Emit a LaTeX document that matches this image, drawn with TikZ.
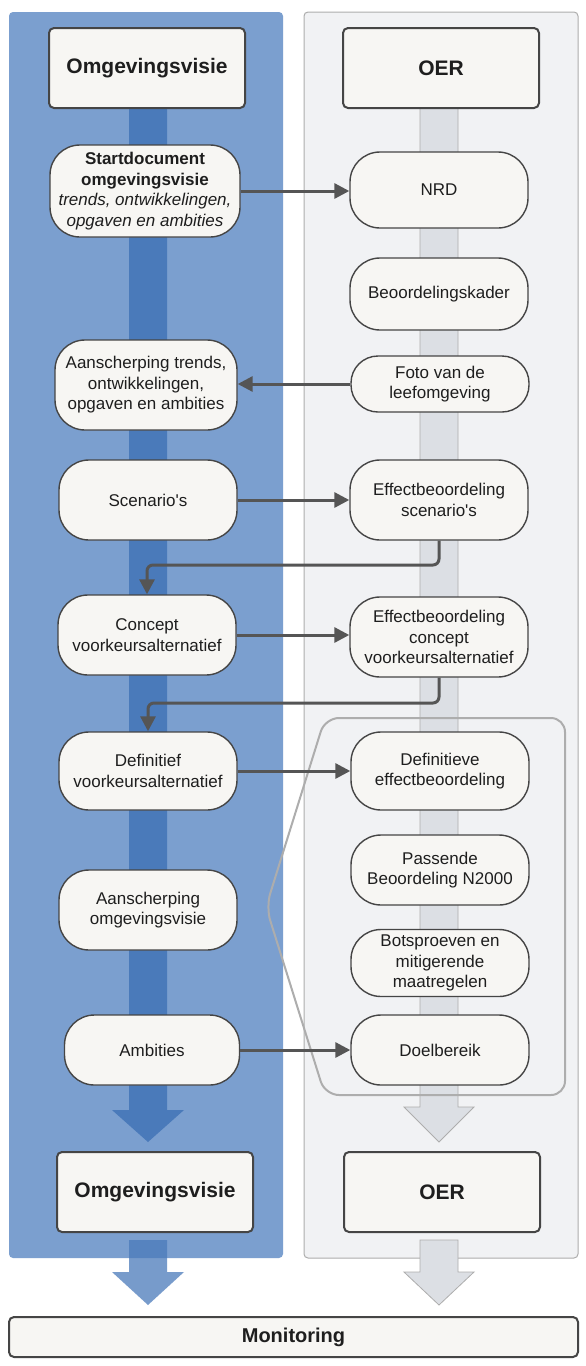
\documentclass[tikz,border=0pt]{standalone}
\usepackage{fontspec}
\setmainfont{Liberation Sans}[Ligatures=TeXOff]
\usetikzlibrary{arrows.meta}
\definecolor{panelblue}{HTML}{7B9FCF}
\definecolor{stripeblue}{HTML}{4A7ABA}
\definecolor{panelgray}{HTML}{F1F2F4}
\definecolor{stripegray}{HTML}{DCDFE4}
\definecolor{nodefill}{HTML}{F7F6F3}
\definecolor{edgecol}{HTML}{454545}
\definecolor{conncol}{HTML}{555555}
\definecolor{hexcol}{HTML}{ADADAD}
\definecolor{txtcol}{HTML}{1E1E1E}
\begin{document}
\begin{tikzpicture}[x=1pt,y=-1pt,
  pill/.style={draw=edgecol, line width=1.4pt, fill=nodefill, rounded corners=30pt,
    align=center, font=\fontsize{17}{20.5}\selectfont, text=txtcol, inner sep=1pt,
    minimum width=178pt, minimum height=78pt},
  titlebox/.style={draw=edgecol, line width=2pt, fill=nodefill, rounded corners=5pt,
    align=center, font=\fontsize{21}{25}\selectfont\bfseries, text=txtcol,
    minimum width=196pt, minimum height=80pt},
  conn/.style={draw=conncol, line width=3pt, -{Triangle[length=15pt,width=15pt]}},
  elbow/.style={conn, rounded corners=6pt},
  hexline/.style={draw=hexcol, line width=2pt, rounded corners=14pt}
]
\useasboundingbox (0,0) rectangle (586,1366);
\fill[white] (0,0) rectangle (586,1366);

% panels
\fill[panelblue, rounded corners=4pt] (9,12) rectangle (283,1258);
\filldraw[fill=panelgray, draw=hexcol, line width=1pt, rounded corners=4pt] (304,12) rectangle (578,1258);

% stripes
\fill[stripeblue] (129,100) -- (129,1110) -- (112,1110) -- (148,1142) -- (184,1110) -- (167,1110) -- (167,100) -- cycle;
\filldraw[fill=stripegray, draw=hexcol, line width=0.8pt] (420,100) -- (420,1107) -- (404,1107) -- (439,1142) -- (474,1107) -- (458,1107) -- (458,100) -- cycle;
\fill[stripeblue, opacity=0.75] (129,1240) -- (129,1272) -- (112,1272) -- (148,1305) -- (184,1272) -- (167,1272) -- (167,1240) -- cycle;
\filldraw[fill=stripegray, draw=hexcol, line width=0.8pt] (420,1240) -- (420,1272) -- (404,1272) -- (439,1305) -- (474,1272) -- (458,1272) -- (458,1240) -- cycle;

% grouping outline
\draw[hexline] (325,718) -- (565,718) -- (565,1095) -- (325,1095) -- (266,907) -- cycle;

% title boxes
\node[titlebox] (topL) at (147,68) {Omgevingsvisie};
\node[titlebox] (topR) at (441,68) {OER};
\node[titlebox] (botL) at (155,1192) {Omgevingsvisie};
\node[titlebox] (botR) at (442,1192) {OER};
\node[titlebox, minimum width=569pt, minimum height=40pt, font=\fontsize{20}{24}\selectfont\bfseries] (mon) at (293.5,1337) {Monitoring};

% left column
\node[pill, minimum width=190pt, minimum height=92pt] (start) at (145,191)
  {\textbf{Startdocument}\\\textbf{omgevingsvisie}\\\textit{trends, ontwikkelingen,}\\\textit{opgaven en ambities}};
\node[pill, minimum width=182pt, minimum height=90pt] (aans1) at (146,385)
  {Aanscherping trends,\\ontwikkelingen,\\opgaven en ambities};
\node[pill, minimum height=80pt] (scen) at (148,500) {Scenario's};
\node[pill, minimum height=80pt] (concept) at (147,635) {Concept\\voorkeursalternatief};
\node[pill] (defL) at (148,771) {Definitief\\voorkeursalternatief};
\node[pill, minimum height=80pt] (aans2) at (148,910) {Aanscherping\\omgevingsvisie};
\node[pill, minimum width=175pt, minimum height=70pt] (amb) at (152,1050) {Ambities};

% right column
\node[pill, minimum height=76pt] (nrd) at (439,190) {NRD};
\node[pill, minimum height=72pt] (beo) at (439,294) {Beoordelingskader};
\node[pill, minimum height=56pt, rounded corners=27pt] (foto) at (440,384) {Foto van de\\leefomgeving};
\node[pill, minimum height=80pt] (effsc) at (439,500) {Effectbeoordeling\\scenario's};
\node[pill, minimum height=80pt] (effcon) at (439,637) {Effectbeoordeling\\concept\\voorkeursalternatief};
\node[pill] (defR) at (440,771) {Definitieve\\effectbeoordeling};
\node[pill, minimum height=70pt] (pass) at (440,870) {Passende\\Beoordeling N2000};
\node[pill, minimum height=67pt] (bots) at (440,963) {Botsproeven en\\mitigerende\\maatregelen};
\node[pill, minimum height=70pt] (doel) at (440,1050) {Doelbereik};

% connectors
\draw[conn] (start.east) -- (start.east -| nrd.west);
\draw[conn] (foto.west) -- (foto.west -| aans1.east);
\draw[conn] (scen.east) -- (scen.east -| effsc.west);
\draw[conn] (concept.east) -- (concept.east -| effcon.west);
\draw[conn] (defL.east) -- (defL.east -| defR.west);
\draw[conn] (amb.east) -- (amb.east -| doel.west);

\coordinate (e1) at (439,565);
\coordinate (e2) at (439,703);
\draw[elbow] (effsc.south) -- (effsc.south |- e1) -- (concept.north |- e1) -- (concept.north);
\draw[elbow] (effcon.south) -- (effcon.south |- e2) -- (defL.north |- e2) -- (defL.north);
\end{tikzpicture}
\end{document}
